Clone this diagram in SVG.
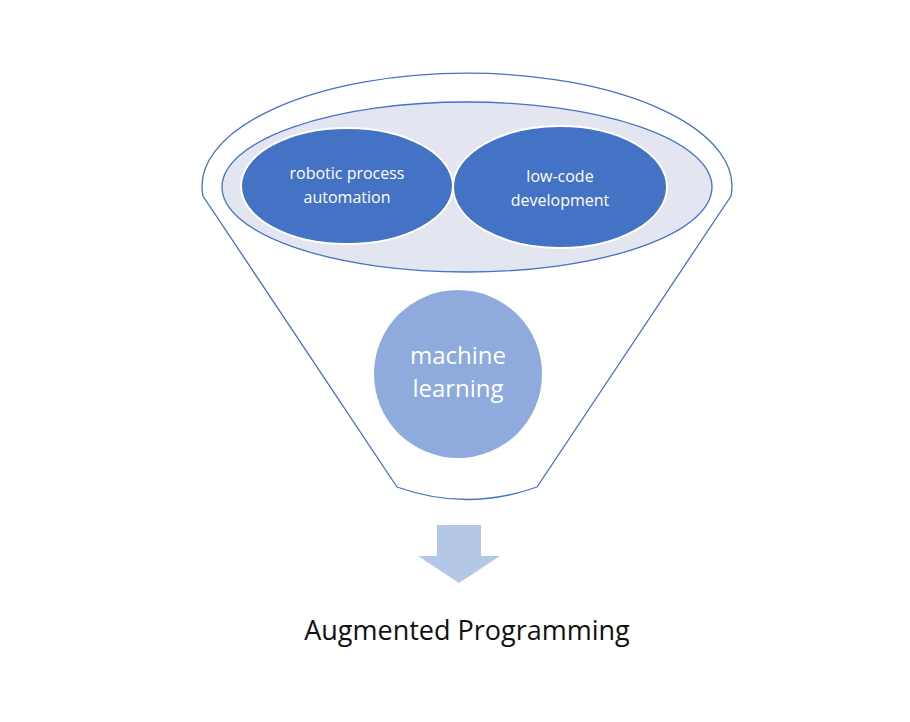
<svg xmlns="http://www.w3.org/2000/svg" width="910" height="722" viewBox="0 0 910 722">
<style>
.t{font-family:"Open Sans","Liberation Sans",sans-serif;fill:#fff;text-anchor:middle}
.d{fill:#4472c4;stroke:#fff;stroke-width:2}
</style>
<rect width="910" height="722" fill="#fff"/>
<g id="funnel">
<path d="M203,196 A265,113 0 1 1 731,196 L537,487 Q467,512 397,487 Z" fill="#fff" stroke="#4472c4" stroke-width="1.3"/>
<ellipse cx="467" cy="187" rx="245" ry="85" fill="#e3e6f1" stroke="#4472c4" stroke-width="1.3"/>
</g>
<g id="rpa"><ellipse class="d" cx="347" cy="186" rx="106" ry="58"/>
<text class="t" x="347" y="179" font-size="16">robotic process</text>
<text class="t" x="347" y="203" font-size="16">automation</text></g>
<g id="lowcode"><ellipse class="d" cx="560" cy="187" rx="107" ry="61"/>
<text class="t" x="560" y="182" font-size="16">low-code</text>
<text class="t" x="560" y="206" font-size="16">development</text></g>
<g id="ml"><circle cx="458" cy="374" r="84" fill="#8faadc"/>
<text class="t" x="458" y="364" font-size="24">machine</text>
<text class="t" x="458" y="397" font-size="24">learning</text></g>
<g id="connectors"><path d="M437,525 H481 V556 H500 L459,583 L418,556 H437 Z" fill="#b4c7e7"/></g>
<g id="label"><text x="467" y="640" font-family="Open Sans, Liberation Sans, sans-serif" font-size="27" text-anchor="middle" fill="#111">Augmented Programming</text></g>
</svg>
